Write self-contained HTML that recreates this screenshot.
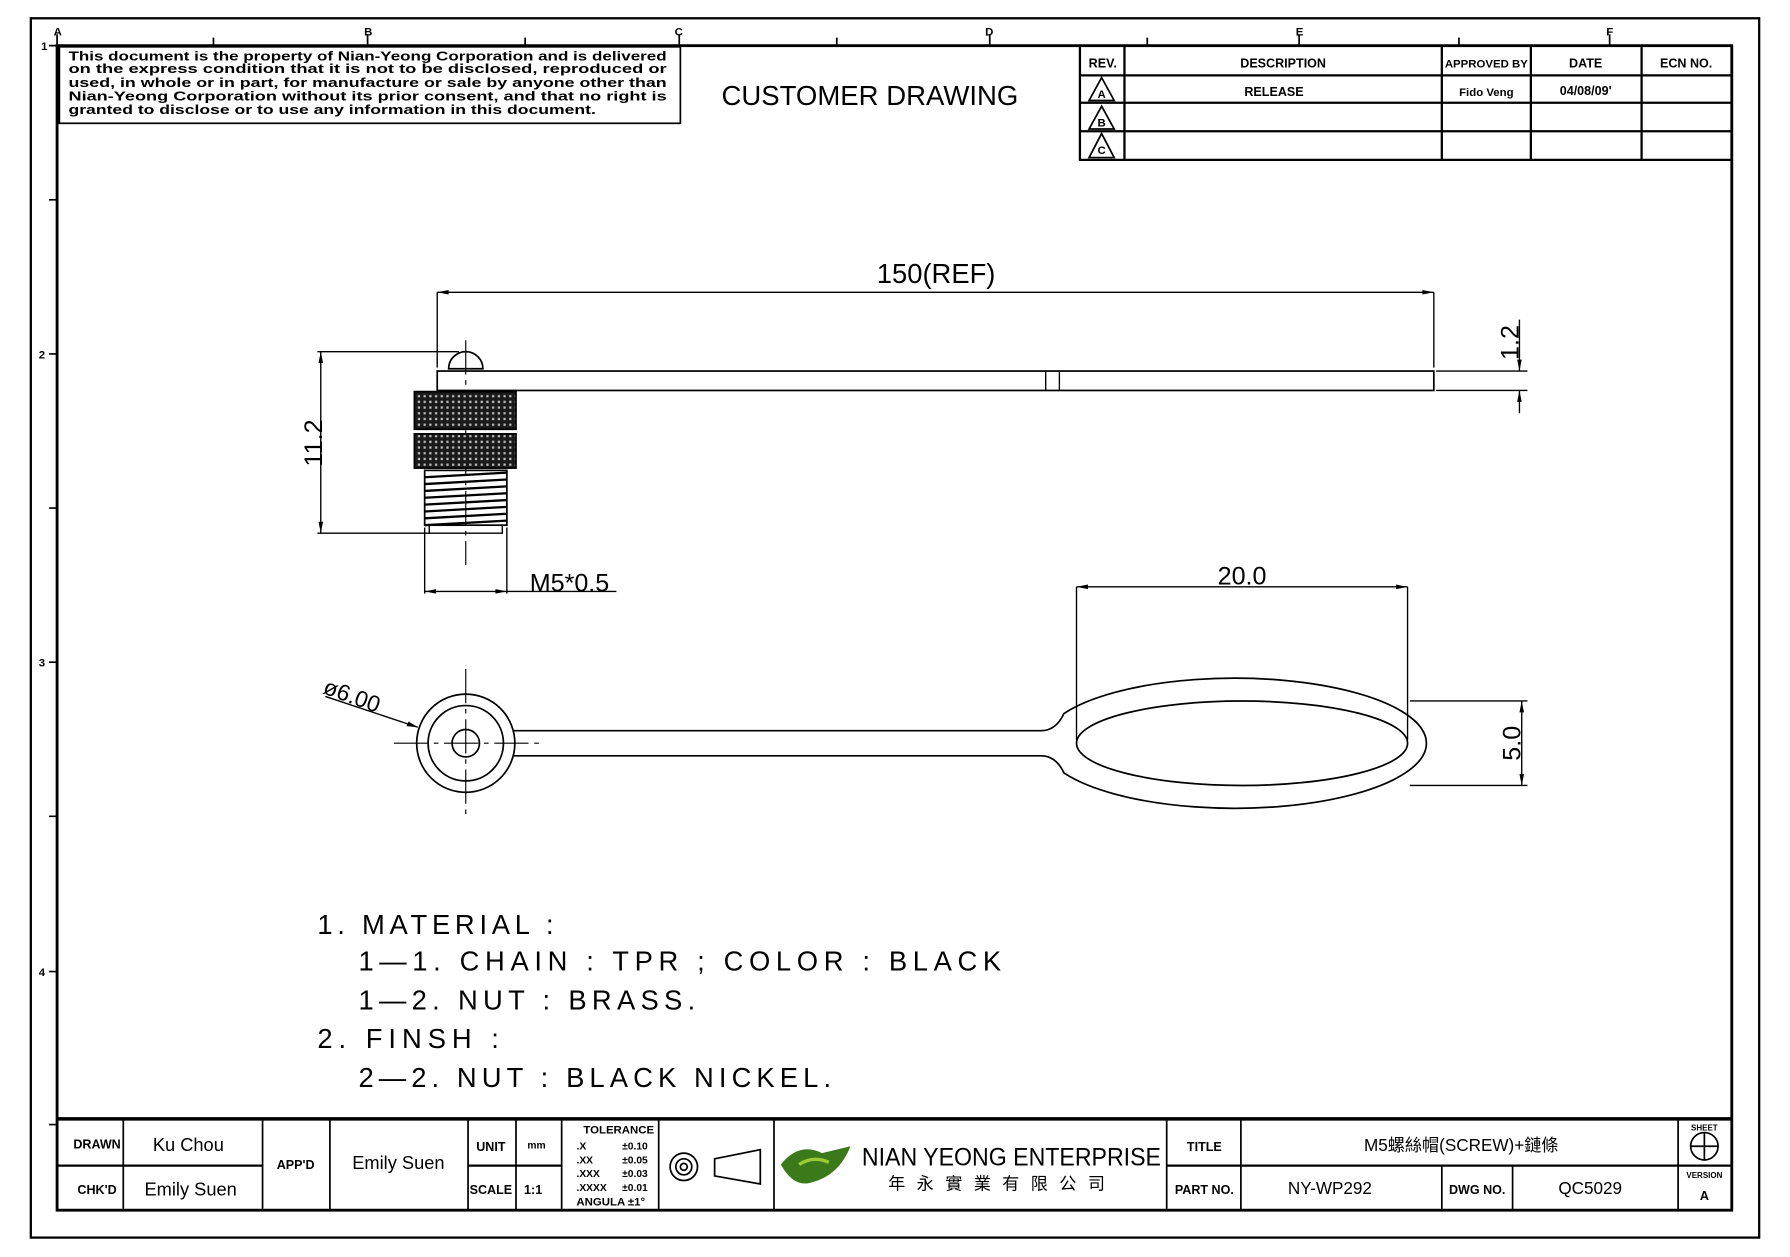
<!DOCTYPE html>
<html><head><meta charset="utf-8"><style>
html,body{margin:0;padding:0;background:#fff}
svg{display:block}
text{font-family:"Liberation Sans Narrow","Liberation Sans","Noto Sans CJK SC",sans-serif;fill:#000}
.b{font-weight:bold}
</style></head><body>
<svg width="1790" height="1257" viewBox="0 0 1568 1101" preserveAspectRatio="none" xmlns="http://www.w3.org/2000/svg">
<defs>
<pattern id="kn" width="5" height="5" patternUnits="userSpaceOnUse">
<rect width="5" height="5" fill="#1a1a1a"/><rect x="1" y="1" width="2" height="2" fill="#bbb"/>
</pattern>
</defs>
<g fill="none" stroke="#000">
<rect x="27" y="16" width="1514" height="1068" stroke-width="2"/>
<rect x="50" y="40" width="1467" height="1020" stroke-width="2.5"/>
<path d="M187 33V40M460 33V40M733 33V40M1005 33V40M1278 33V40M50 30V40M322 30V40M595 30V40M867 30V40M1138 30V40M1410 30V40" stroke-width="1.5"/>
<path d="M43 40H50M43 175H50M43 310H50M43 445H50M43 580H50M43 715H50M43 851H50M43 985H50" stroke-width="1.5"/>
<rect x="52" y="41" width="544" height="67" stroke-width="1.5"/>
<path d="M946 41V140H1517M946 66H1517M946 90H1517M946 115H1517M985 41V140M1263 41V140M1341 41V140M1438 41V140" stroke-width="2"/>
<path d="M965 68L954 88H976ZM965 93L954 113H976ZM965 117L954 138H976Z" stroke-width="1.5"/>
<path d="M50 980H1517" stroke-width="3"/>
<path d="M108 980V1060M230 980V1060M289 980V1060M410 980V1060M452 980V1060M492 980V1060M577 980V1060M678 980V1060M1022 980V1060M1087 980V1060M1470 980V1060M1263 1021V1060M1325 1021V1060" stroke-width="1.5"/>
<path d="M50 1021H230M410 1021H492M1022 1021H1517" stroke-width="2"/>
<circle cx="599" cy="1022" r="12" stroke-width="1.5"/><circle cx="599" cy="1022" r="7" stroke-width="1.5"/><circle cx="599" cy="1022" r="3" stroke-width="1.5"/>
<path d="M626 1015L666 1007V1037L626 1030Z" stroke-width="1.5"/>
<circle cx="1493" cy="1004" r="12" stroke-width="1.5"/><path d="M1481 1004H1505M1493 992V1016" stroke-width="1.5"/>

<path d="M383 256H1256M383 256V322M1256 256V322" stroke-width="1.2"/>
<rect x="383" y="325" width="873" height="17" stroke-width="1.5"/>
<path d="M916 325V342M928 325V342" stroke-width="1.2"/>
<path d="M393 323A15 15 0 0 1 423 323Z" stroke-width="1.5"/>
<path d="M408 298V495" stroke-width="1" stroke-dasharray="30 5 4 5"/>
<rect x="363" y="343" width="89" height="33" fill="url(#kn)" stroke-width="1.5"/>
<rect x="363" y="380" width="89" height="30" fill="url(#kn)" stroke-width="1.5"/>
<rect x="372" y="412" width="72" height="48" stroke-width="1.5"/>
<path d="M372 418L444 414M372 424L444 420M372 430L444 426M372 436L444 432M372 442L444 438M372 448L444 444M372 454L444 450M372 460L444 456" stroke-width="2"/>
<rect x="376" y="460" width="64" height="7" stroke-width="1.2"/>
<path d="M278 308H402M278 467H376M281 308V467" stroke-width="1.2"/>
<path d="M372 462V520M444 462V520M372 518H540" stroke-width="1.2"/>
<path d="M1258 325H1338M1258 342H1338M1331 280V325M1331 342V362" stroke-width="1.2"/>
<circle cx="408" cy="651" r="43" stroke-width="1.5"/>
<circle cx="408" cy="651" r="33" stroke-width="1.5"/>
<circle cx="408" cy="651" r="12" stroke-width="1.5"/>
<path d="M345 651H475M408 586V716" stroke-width="1" stroke-dasharray="30 5 4 5"/>
<path d="M285 610L366 637" stroke-width="1.2"/>
<path d="M450 640H912Q925 640 932 625A168 57 0 1 1 932 677Q925 662 912 662H450" stroke-width="1.5"/>
<ellipse cx="1088" cy="651" rx="145" ry="37" stroke-width="1.5"/>
<path d="M943 514H1233M943 514V648M1233 514V648" stroke-width="1.2"/>
<path d="M1235 614H1338M1235 688H1338M1333 614V688" stroke-width="1.2"/>
</g>
<path d="M383 256l10-2v4zM1256 256l-10-2v4zM281 308l-2 10h4zM281 467l-2-10h4zM372 518l10-2v4zM444 518l-10-2v4zM1331 325l-2-10h4zM1331 342l-2 10h4zM943 514l10-2v4zM1233 514l-10-2v4zM1333 614l-2 10h4zM1333 688l-2-10h4zM366 637l-10-1 2-4z" fill="#000"/>

<g class="b" font-size="11.5">
<text x="60" y="53" textLength="524" lengthAdjust="spacingAndGlyphs">This document is the property of Nian-Yeong Corporation and is delivered</text>
<text x="60" y="64" textLength="524" lengthAdjust="spacingAndGlyphs">on  the  express condition that it is not to be disclosed, reproduced or</text>
<text x="60" y="76" textLength="524" lengthAdjust="spacingAndGlyphs">used, in whole or in part, for manufacture or sale by anyone other than</text>
<text x="60" y="88" textLength="524" lengthAdjust="spacingAndGlyphs">Nian-Yeong Corporation without  its prior consent, and that  no right  is</text>
<text x="60" y="100" textLength="462" lengthAdjust="spacingAndGlyphs">granted to disclose or to use any information in this  document.</text>
</g>
<text x="632" y="92" font-size="24" textLength="260" lengthAdjust="spacingAndGlyphs">CUSTOMER  DRAWING</text>
<g class="b" font-size="11" text-anchor="middle">
<text x="966" y="59">REV.</text><text x="1124" y="59">DESCRIPTION</text><text x="1302" y="59" font-size="10">APPROVED BY</text><text x="1389" y="59">DATE</text><text x="1477" y="59">ECN NO.</text>
<text x="1116" y="84">RELEASE</text><text x="1302" y="84" font-size="10">Fido Veng</text><text x="1389" y="83">04/08/09'</text>
<text x="965" y="86" font-size="10">A</text><text x="965" y="111" font-size="10">B</text><text x="965" y="135" font-size="10">C</text>
</g>
<g font-size="10" class="b">
<text x="36" y="44">1</text><text x="34" y="314">2</text><text x="34" y="584">3</text><text x="34" y="855">4</text>
<text x="47" y="31">A</text><text x="319" y="31">B</text><text x="591" y="31">C</text><text x="863" y="31">D</text><text x="1135" y="31">E</text><text x="1407" y="31">F</text>
</g>
<text x="820" y="248" font-size="24" text-anchor="middle">150(REF)</text>
<text x="1088" y="512" font-size="22" text-anchor="middle">20.0</text>
<text x="464" y="518" font-size="22">M5*0.5</text>
<text transform="translate(282,388) rotate(-90)" font-size="22" text-anchor="middle">11.2</text>
<text transform="translate(1330,300) rotate(-90)" font-size="22" text-anchor="middle">1.2</text>
<text transform="translate(1332,651) rotate(-90)" font-size="22" text-anchor="middle">5.0</text>
<text transform="translate(282,607) rotate(20)" font-size="20">ø6.00</text>
<g font-size="24">
<text x="278" y="818" textLength="207" lengthAdjust="spacing">1.  MATERIAL  :</text>
<text x="314" y="850" textLength="563" lengthAdjust="spacing">1—1.  CHAIN  :  TPR  ;  COLOR  :  BLACK</text>
<text x="314" y="884" textLength="295" lengthAdjust="spacing">1—2.  NUT  :  BRASS.</text>
<text x="278" y="918" textLength="159" lengthAdjust="spacing">2.  FINSH  :</text>
<text x="314" y="952" textLength="414" lengthAdjust="spacing">2—2.  NUT  :  BLACK  NICKEL.</text>
</g>
<g font-size="13" text-anchor="middle">
<text x="85" y="1006" class="b" font-size="11">DRAWN</text><text x="85" y="1046" class="b" font-size="11">CHK'D</text>
<text x="165" y="1008" font-size="16">Ku Chou</text><text x="167" y="1047" font-size="16">Emily Suen</text>
<text x="259" y="1024" class="b" font-size="11">APP'D</text><text x="349" y="1024" font-size="16">Emily Suen</text>
<text x="430" y="1008" class="b" font-size="11">UNIT</text><text x="430" y="1046" class="b" font-size="11">SCALE</text>
<text x="470" y="1006" class="b" font-size="9">mm</text><text x="467" y="1046" class="b" font-size="11">1:1</text>
<text x="542" y="993" class="b" font-size="10">TOLERANCE</text>
<text x="535" y="1056" class="b" font-size="10">ANGULA  ±1°</text>
</g>
<g font-size="9" class="b">
<text x="505" y="1007">.X</text><text x="545" y="1007">±0.10</text>
<text x="505" y="1019">.XX</text><text x="545" y="1019">±0.05</text>
<text x="505" y="1031">.XXX</text><text x="545" y="1031">±0.03</text>
<text x="505" y="1043">.XXXX</text><text x="545" y="1043">±0.01</text>
</g>
<path d="M684 1020Q700 1000 720 1010L745 1004Q735 1030 710 1036Q695 1040 684 1020Z" fill="#3a7a1a"/>
<path d="M700 1020Q712 1012 726 1018" stroke="#9c3" stroke-width="3" fill="none"/>
<text x="755" y="1021" font-size="22" textLength="262" lengthAdjust="spacingAndGlyphs">NIAN YEONG ENTERPRISE</text>
<text x="778" y="1042" font-size="15" letter-spacing="10">年永實業有限公司</text>
<g text-anchor="middle" class="b" font-size="11">
<text x="1055" y="1008">TITLE</text><text x="1055" y="1046">PART NO.</text>
<text x="1294" y="1046">DWG NO.</text>
<text x="1493" y="990" font-size="7">SHEET</text><text x="1493" y="1032" font-size="7">VERSION</text><text x="1493" y="1051">A</text>
</g>
<g text-anchor="middle" font-size="15">
<text x="1280" y="1008">M5螺絲帽(SCREW)+鏈條</text>
<text x="1165" y="1046">NY-WP292</text>
<text x="1393" y="1046">QC5029</text>
</g>
</svg>
</body></html>
